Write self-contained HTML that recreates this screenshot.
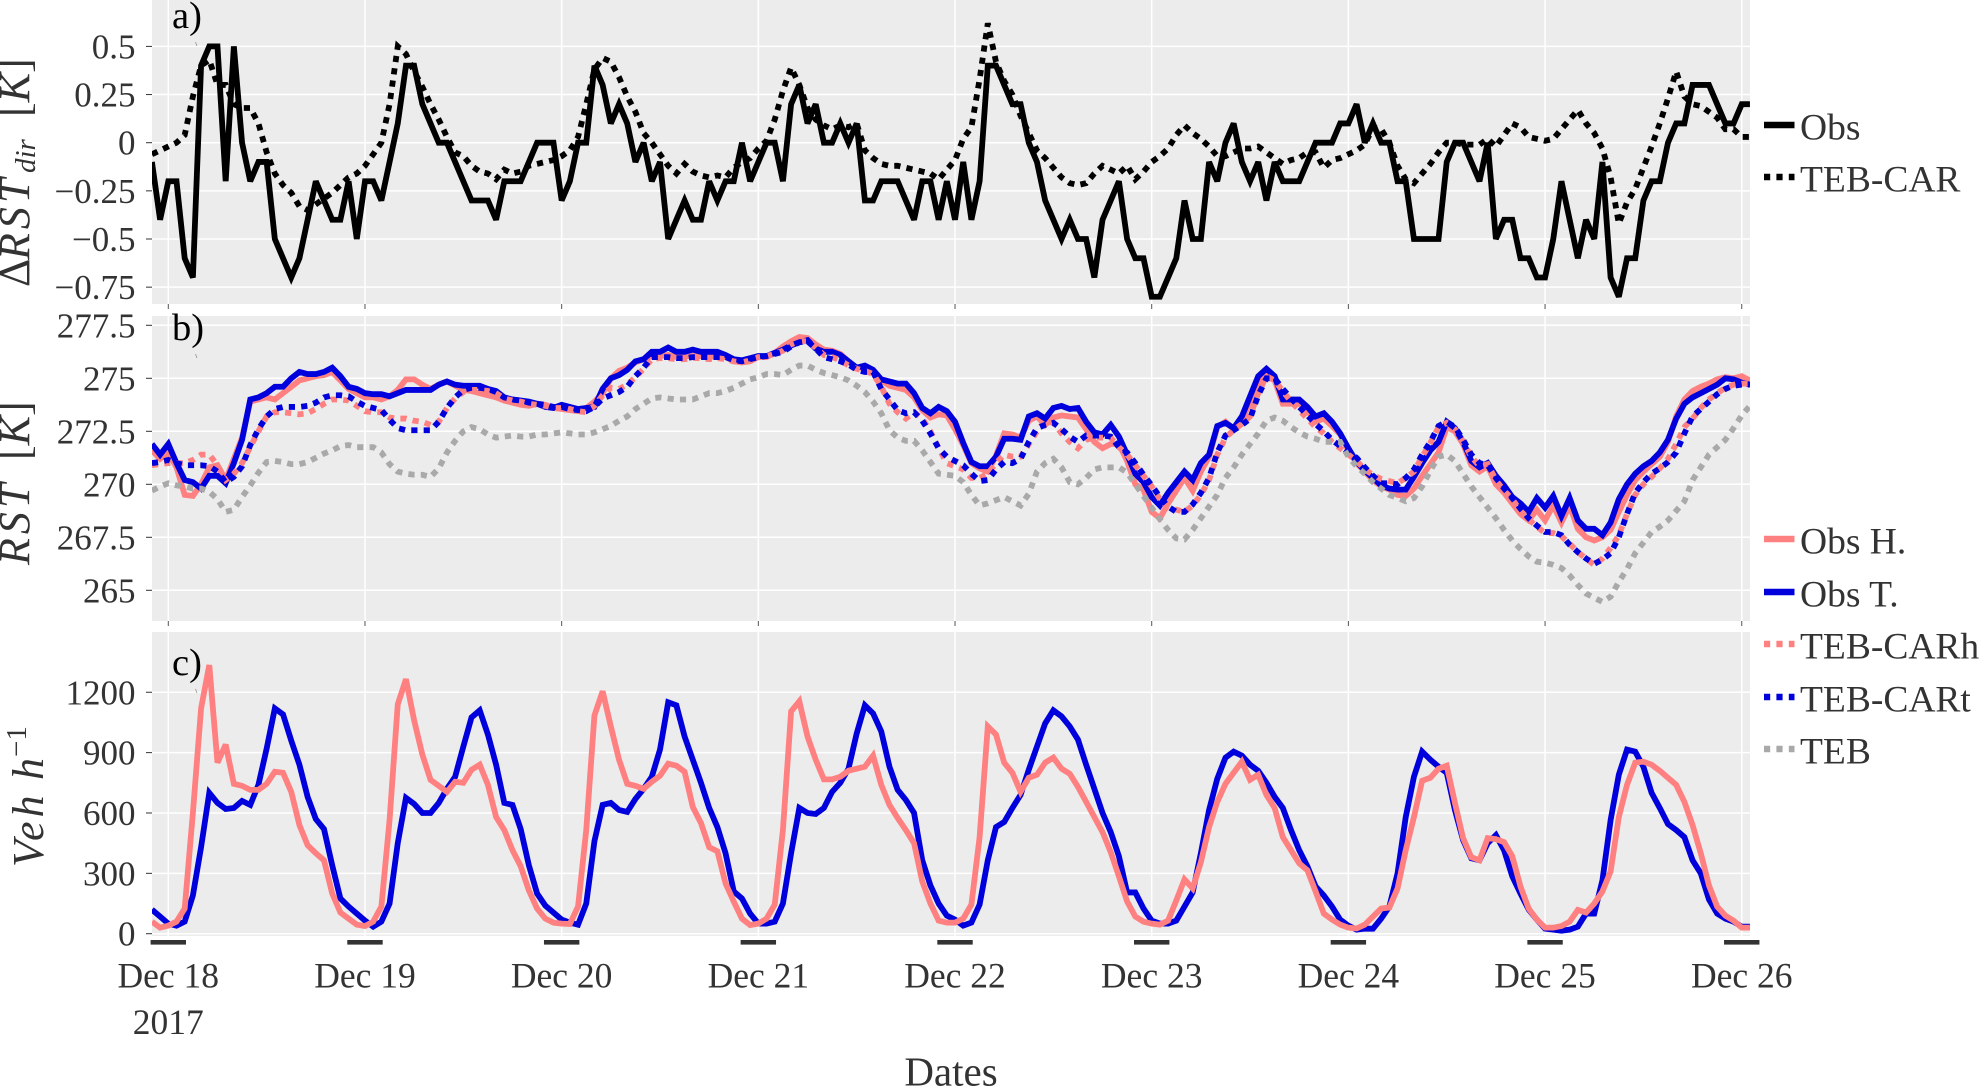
<!DOCTYPE html>
<html lang="en">
<head>
<meta charset="utf-8">
<title>RST and traffic time series</title>
<style>
html,body{margin:0;padding:0;background:#fff;width:1981px;height:1087px;overflow:hidden}
svg{display:block}
text{font-family:"Liberation Serif",serif}
</style>
</head>
<body>
<svg id="chart" xmlns="http://www.w3.org/2000/svg" width="1981" height="1087" viewBox="0 0 1981 1087">
  <text transform="translate(29,287) rotate(-90)" font-size="44" fill="#333"><tspan x="0">Δ</tspan><tspan x="27" font-style="italic" letter-spacing="4">RST</tspan><tspan x="114" font-style="italic" font-size="29" dy="6">dir</tspan><tspan x="170" dy="-6">[</tspan><tspan font-style="italic">K</tspan><tspan>]</tspan></text>
  <text transform="translate(29,565) rotate(-90)" font-size="44" fill="#333"><tspan x="0" font-style="italic" letter-spacing="4">RST</tspan><tspan x="105">[</tspan><tspan font-style="italic">K</tspan><tspan>]</tspan></text>
  <text transform="translate(43,867) rotate(-90)" font-size="44" fill="#333"><tspan x="0" font-style="italic" letter-spacing="4">Veh</tspan><tspan x="87" font-style="italic">h</tspan><tspan x="110" font-size="29" dy="-17">−1</tspan></text>
  <text x="951" y="1085.5" text-anchor="middle" font-size="41" fill="#333">Dates</text>
</svg>
<script>
// Time axis: one value per hour, hour 0 = Dec 18 00:00
const firstHour = -2;
const dayLabels = ["Dec 18","Dec 19","Dec 20","Dec 21","Dec 22","Dec 23","Dec 24","Dec 25","Dec 26"];
const yearLabel = "2017";

const deltaTicks = [0.5,0.25,0,-0.25,-0.5,-0.75];
const deltaTickLabels = ["0.5","0.25","0","−0.25","−0.5","−0.75"];
const rstTicks = [277.5,275,272.5,270,267.5,265];
const rstTickLabels = ["277.5","275","272.5","270","267.5","265"];
const vehTicks = [1200,900,600,300,0];
const vehTickLabels = ["1200","900","600","300","0"];

const deltaObs = [
-0.1,-0.4,-0.2,-0.2,-0.6,-0.7,0.4,0.5,0.5,-0.2,
0.5,0,-0.2,-0.1,-0.1,-0.5,-0.6,-0.7,-0.6,-0.4,
-0.2,-0.3,-0.4,-0.4,-0.2,-0.5,-0.2,-0.2,-0.3,-0.1,
0.1,0.4,0.4,0.2,0.1,0,0,-0.1,-0.2,-0.3,
-0.3,-0.3,-0.4,-0.2,-0.2,-0.2,-0.1,0,0,0,
-0.3,-0.2,0,0,0.4,0.3,0.1,0.2,0.1,-0.1,
0,-0.2,-0.1,-0.5,-0.4,-0.3,-0.4,-0.4,-0.2,-0.3,
-0.2,-0.2,0,-0.2,-0.1,0,0,-0.2,0.2,0.3,
0.1,0.2,0,0,0.1,0,0.1,-0.3,-0.3,-0.2,
-0.2,-0.2,-0.3,-0.4,-0.2,-0.2,-0.4,-0.2,-0.4,-0.1,
-0.4,-0.2,0.4,0.4,0.3,0.2,0.2,0,-0.1,-0.3,
-0.4,-0.5,-0.4,-0.5,-0.5,-0.7,-0.4,-0.3,-0.2,-0.5,
-0.6,-0.6,-0.8,-0.8,-0.7,-0.6,-0.3,-0.5,-0.5,-0.1,
-0.2,0,0.1,-0.1,-0.2,-0.1,-0.3,-0.1,-0.2,-0.2,
-0.2,-0.1,0,0,0,0.1,0.1,0.2,0,0.1,
0,0,-0.2,-0.2,-0.5,-0.5,-0.5,-0.5,-0.1,0,
0,-0.1,-0.2,0,-0.5,-0.4,-0.4,-0.6,-0.6,-0.7,
-0.7,-0.5,-0.2,-0.4,-0.6,-0.4,-0.5,-0.1,-0.7,-0.8,
-0.6,-0.6,-0.3,-0.2,-0.2,0,0.1,0.1,0.3,0.3,
0.3,0.2,0.1,0.1,0.2,0.2];

const deltaTebCar = [
-0.06,-0.04,-0.02,0,0.04,0.24,0.4,0.43,0.3,0.3,
0.2,0.18,0.18,0.1,-0.05,-0.16,-0.22,-0.26,-0.33,-0.35,
-0.32,-0.29,-0.26,-0.22,-0.18,-0.16,-0.12,-0.06,0,0.2,
0.5,0.46,0.37,0.29,0.2,0.12,0.03,-0.05,-0.07,-0.12,
-0.15,-0.16,-0.19,-0.14,-0.16,-0.15,-0.12,-0.11,-0.1,-0.09,
-0.07,-0.04,0.03,0.2,0.38,0.44,0.42,0.34,0.24,0.16,
0.05,0,-0.06,-0.12,-0.16,-0.11,-0.15,-0.17,-0.18,-0.17,
-0.18,-0.13,-0.1,-0.08,-0.03,0.01,0.12,0.27,0.39,0.3,
0.18,0.12,0.09,0.07,0.09,0.08,0.1,-0.04,-0.08,-0.11,
-0.12,-0.12,-0.13,-0.14,-0.15,-0.16,-0.19,-0.14,-0.09,0.02,
0.08,0.33,0.62,0.42,0.32,0.25,0.14,0.05,-0.04,-0.08,
-0.13,-0.18,-0.21,-0.22,-0.21,-0.16,-0.12,-0.14,-0.16,-0.12,
-0.19,-0.15,-0.1,-0.07,-0.03,0.04,0.09,0.05,0.02,-0.02,
-0.07,-0.07,-0.05,-0.03,-0.03,-0.02,-0.05,-0.08,-0.11,-0.09,
-0.08,-0.05,-0.05,-0.13,-0.09,-0.08,-0.06,-0.04,-0.01,0.08,
0.07,0,-0.12,-0.19,-0.21,-0.16,-0.11,-0.05,0,0,
-0.01,-0.01,-0.01,0.02,-0.02,0.04,0.1,0.08,0.03,0.02,
0.01,0.02,0.07,0.12,0.17,0.1,0.05,-0.03,-0.18,-0.42,
-0.31,-0.24,-0.13,-0.02,0.1,0.23,0.37,0.24,0.2,0.19,
0.16,0.13,0.07,0.07,0.03,0.03];

const rstObsH = [
271.6,271.2,271.5,270.8,269.5,269.45,270,270.8,270.9,270.2,
271.2,272.2,273.9,274,274.1,274,274.3,274.6,274.9,275,
275.1,275.15,275.3,274.9,274.5,274.3,274.1,274.1,274,274.15,
274.45,274.95,274.95,274.7,274.5,274.7,274.85,274.65,274.45,274.4,
274.3,274.2,274.1,273.95,273.85,273.75,273.7,273.8,273.75,273.6,
273.55,273.5,273.45,273.6,273.9,274.3,275,275.35,275.5,275.75,
275.9,276.05,276.05,276.1,276,276.05,276.05,276.05,276,276.05,
276,275.8,275.75,275.8,276,276,276.2,276.5,276.75,276.95,
276.9,276.6,276.35,276.3,276.15,275.8,275.5,275.5,275.35,274.9,
274.65,274.55,274.45,274.1,273.5,273.15,273.3,273.25,272.6,271.85,
271,270.75,270.6,271.35,272.4,272.35,272.2,273,273.2,272.8,
273.15,273.25,273.2,273.15,272.6,272,271.7,271.9,271.9,271.1,
270,269.75,268.7,268.4,269.1,269.7,270.3,269.7,270.6,271.3,
272.7,272.95,272.6,273,273.9,274.9,275.2,274.9,273.8,273.8,
273.8,273.5,272.95,273.1,272.75,272.35,271.6,271,270.6,270.2,
269.9,269.75,269.5,269.45,269.8,270.4,270.95,271.5,272.7,272.5,
271.9,270.9,270.6,270.85,270,269.6,269.1,268.6,268.3,268.8,
268.3,269,268.2,269,267.9,267.5,267.35,267.5,267.85,268.7,
269.5,270.2,270.6,270.95,271.3,272,273.2,274,274.4,274.6,
274.75,274.95,275.05,275,275.1,274.9];

const rstObsT = [
271.9,271.4,271.9,271,270.2,270.1,269.8,270.4,270.4,270.05,
271,272.1,274,274.1,274.3,274.6,274.6,275,275.3,275.2,
275.2,275.3,275.5,275.1,274.6,274.5,274.3,274.25,274.25,274.15,
274.3,274.45,274.45,274.45,274.45,274.7,274.85,274.7,274.65,274.65,
274.65,274.5,274.4,274.1,274,273.95,273.9,273.8,273.65,273.6,
273.75,273.65,273.55,273.6,273.65,274.5,275,275.15,275.4,275.8,
275.9,276.25,276.25,276.45,276.25,276.25,276.35,276.25,276.25,276.25,
276.1,275.9,275.85,275.95,276.05,276.05,276.2,276.35,276.55,276.7,
276.8,276.4,276.25,276.25,276.1,275.8,275.5,275.6,275.4,274.95,
274.85,274.75,274.75,274.3,273.6,273.35,273.65,273.45,272.95,271.95,
271.05,270.85,270.85,271.3,272.15,272.15,272.1,273.2,273.35,273.1,
273.6,273.7,273.55,273.6,272.95,272.45,272.35,272.8,272.25,271.4,
270.5,270.1,269.4,269,269.6,270.1,270.6,270.2,271,271.4,
272.75,272.9,272.65,273.2,274.15,275.1,275.45,275.1,274,274,
274,273.65,273.2,273.35,272.95,272.4,271.7,271.05,270.65,270.3,
269.95,269.8,269.75,269.75,270.35,271,271.6,272,272.95,272.65,
272,271.1,270.8,271,270.4,269.95,269.4,269.1,268.7,269.35,
268.9,269.45,268.5,269.35,268.3,267.9,267.9,267.6,268.2,269.3,
270,270.5,270.85,271.1,271.5,272.1,273.1,273.8,274.1,274.3,
274.5,274.7,275,274.95,274.8,274.7];

const rstTebCarH = [
270.9,270.95,271,271,271,271.15,271.4,271.4,270.9,270.2,
270.5,271,271.75,272.5,273.2,273.4,273.4,273.35,273.3,273.35,
273.55,273.8,274,274,273.95,273.7,273.45,273.4,273.4,273.15,
273.1,273.1,273,272.95,272.8,272.95,273.6,274.05,274.35,274.45,
274.45,274.4,274.3,274.05,273.95,273.9,273.8,273.75,273.7,273.6,
273.6,273.55,273.45,273.4,273.7,274.2,274.55,274.5,274.7,275.05,
275.45,275.9,275.95,275.95,275.9,275.9,275.95,275.95,275.9,275.95,
275.9,275.8,275.75,275.85,276,276.05,276.15,276.3,276.6,276.75,
276.75,276.45,276.1,276,275.85,275.6,275.45,275.35,275.2,274.6,
273.8,273.4,273.1,273.4,273.1,272.5,271.7,271,270.85,270.7,
270.3,270.3,270.5,271,271.4,271.3,271.3,271.9,272.5,273,
272.9,272.4,272,271.7,272.1,272.2,272.2,272.2,271.75,271.4,
270.9,270.4,269.9,269.3,268.9,268.8,268.7,269,269.5,270.2,
271.4,272.2,272.55,272.85,273.2,274.3,275.1,274.9,274.4,273.9,
273.5,273.1,272.7,272.4,272,271.7,271.4,271.1,270.7,270.45,
270.25,270.15,270.05,270.3,270.6,271.3,271.95,272.7,272.9,272.6,
272,271.3,270.85,270.95,270.2,269.7,269.3,268.75,268.35,268,
267.7,267.7,267.55,267.2,266.8,266.5,266.2,266.5,267,267.6,
268.6,269.5,270,270.35,270.75,271.2,271.9,272.7,273.1,273.6,
274,274.3,274.55,274.7,274.75,274.75];

const rstTebCarT = [
271,271.05,271.15,271,270.9,270.9,270.9,270.85,270.6,270.1,
270.35,270.85,271.85,272.6,273.2,273.55,273.65,273.65,273.65,273.7,
273.85,274.1,274.2,274.2,274.15,273.9,273.7,273.6,273.5,273.05,
272.65,272.55,272.55,272.55,272.55,272.95,273.6,274.1,274.45,274.55,
274.55,274.5,274.35,274.1,274,273.95,273.85,273.8,273.75,273.65,
273.65,273.55,273.5,273.45,273.65,274.05,274.2,274.35,274.6,275.1,
275.5,276,276,276,275.95,275.95,276,276,276,276,
276,275.85,275.8,275.9,276,276.05,276.15,276.25,276.5,276.7,
276.75,276.4,276,275.9,275.8,275.65,275.4,275.3,275.3,274.5,
274,273.5,273.35,273.4,273,272.4,271.7,271.3,271.1,270.9,
270.5,270.15,270.2,270.7,271.05,271,271.2,272,272.65,272.8,
272.9,272.6,272.25,272,272.3,272.3,272.3,272.25,271.75,271.5,
271,270.45,269.95,269.4,268.95,268.7,268.7,269.05,269.6,270.3,
271.5,272.3,272.55,272.8,273.1,274.2,275,275,274.5,274.05,
273.65,273.25,272.85,272.5,272.1,271.8,271.5,271.25,270.8,270.4,
270.05,270.05,270,270.3,270.7,271.4,272,272.75,272.95,272.7,
272.1,271.4,271,270.9,270.3,269.8,269.35,268.85,268.4,268.05,
267.75,267.75,267.6,267.15,266.8,266.5,266.25,266.45,266.75,267.5,
268.6,269.6,270.1,270.5,270.75,271.05,271.5,272.4,273.2,273.55,
273.9,274.25,274.5,274.65,274.7,274.7];

const rstTeb = [
269.7,269.9,270.05,269.95,269.9,269.8,269.8,269.65,269.3,268.7,
268.8,269.4,269.95,270.55,271.05,271.1,271.05,270.95,270.95,271.05,
271.25,271.45,271.6,271.8,271.85,271.75,271.75,271.75,271.5,270.95,
270.6,270.5,270.45,270.45,270.35,270.75,271.5,272.05,272.5,272.7,
272.6,272.35,272.2,272.25,272.3,272.25,272.25,272.35,272.35,272.4,
272.45,272.4,272.35,272.35,272.45,272.6,272.75,273,273.2,273.55,
273.8,274.05,274.1,274.05,274,274,274,274.15,274.3,274.3,
274.4,274.55,274.75,274.95,275.05,275.2,275.2,275.15,275.4,275.6,
275.6,275.4,275.25,275.15,275.05,274.9,274.65,274.35,273.9,273.35,
272.55,272.2,272.05,272.05,271.6,271.05,270.5,270.45,270.4,270.1,
269.5,269,269.1,269.25,269.4,269.2,269,269.55,270.6,271,
271.2,270.8,270.1,270,270.3,270.7,270.8,270.8,270.8,270.55,
270,269.45,268.9,268.35,267.85,267.45,267.4,267.85,268.4,268.95,
269.5,270.3,270.8,271.4,271.9,272.4,273,273.15,273,272.7,
272.45,272.25,272.15,272,272,272,271.3,270.85,270.5,270.1,
269.8,269.5,269.35,269.2,269.35,269.9,270.65,271.3,271.4,271.1,
270.5,269.9,269.4,268.9,268.4,267.85,267.35,266.95,266.6,266.35,
266.3,266.2,266.05,265.7,265.25,264.85,264.65,264.45,264.7,265.4,
266,266.75,267.25,267.75,268,268.3,268.75,269.2,270.2,270.8,
271.4,271.75,272.1,272.65,273.25,273.7];

const vehObsH = [
60,30,40,60,125,600,1120,1335,850,940,
745,735,715,715,745,805,800,705,540,440,
400,365,200,105,75,45,38,60,135,565,
1140,1265,1060,890,765,735,705,755,750,815,
840,740,580,515,415,335,215,125,75,55,
50,48,135,515,1085,1205,1030,865,745,735,
720,755,785,845,835,805,630,550,430,410,
250,160,75,43,50,75,145,515,1105,1155,
980,865,767,767,780,810,820,830,885,740,
640,575,515,450,260,150,65,55,55,75,
145,480,1030,990,850,800,705,775,790,850,
875,820,795,730,655,580,505,405,285,160,
85,60,50,45,65,165,270,225,355,530,
655,745,800,855,765,790,690,625,480,415,
350,315,210,100,70,45,30,26,45,85,
125,130,225,415,580,760,775,820,835,650,
475,380,365,475,470,455,385,235,125,70,
30,30,38,60,118,105,150,210,310,580,
740,850,855,840,810,775,740,655,540,400,
240,135,90,65,30,30];

const vehObsT = [
120,85,50,40,60,190,430,700,650,620,
625,660,640,740,920,1120,1090,960,840,680,
570,520,340,175,135,100,65,35,60,150,
450,675,645,600,600,650,720,780,930,1075,
1110,990,840,650,640,520,340,200,140,105,
70,55,45,150,460,640,650,615,605,670,
720,780,915,1150,1135,980,865,750,625,530,
400,210,175,100,50,50,60,150,400,625,
600,595,625,705,750,820,995,1135,1095,1005,
830,715,665,600,365,240,150,90,70,40,
55,145,365,530,555,625,690,815,930,1045,
1110,1080,1030,965,840,720,600,505,385,205,
205,125,65,50,50,65,135,205,400,615,
770,875,905,885,840,810,750,680,625,515,
415,335,235,190,135,70,40,20,25,25,
75,135,300,580,780,905,865,830,800,615,
465,375,365,450,490,415,285,200,120,70,
25,20,15,20,35,100,100,265,565,790,
915,905,830,700,625,545,515,480,365,300,
170,100,75,60,35,35];

const SVGNS = "http://www.w3.org/2000/svg";
const chart = document.getElementById("chart");
const PLOT_LEFT = 152, PLOT_RIGHT = 1750;
const TEXT_COLOR = "#333333", PINK = "#FF8080", BLUE = "#0000DC", GRAY = "#A9A9A9", BLACK = "#000000";
const DASH = "6.2 6.2";
const LINE_WIDTH = 5.8;

function xScale(hour){ return 168.3 + hour * 8.195; }
function yDelta(v){ return 142.7 - v * 192.6; }
function yRst(v){ return 484.3 - (v - 270) * 21.2; }
function yVeh(v){ return 933.7 - v * 0.2012; }

function make(tag, parent, attrs){
  const node = document.createElementNS(SVGNS, tag);
  for (const k in attrs) node.setAttribute(k, attrs[k]);
  parent.appendChild(node);
  return node;
}

const defs = make("defs", chart, {});

function drawPanel(key, top, bottom, ticks, tickLabels, yFn, smallXTicks){
  const group = make("g", chart, {});
  
  
  const clip = make("clipPath", defs, {id: "clip-" + key});
  make("rect", clip, {x: PLOT_LEFT, y: top, width: PLOT_RIGHT - PLOT_LEFT, height: bottom - top});
  const bg = make("rect", group, {x: PLOT_LEFT, y: top, width: PLOT_RIGHT - PLOT_LEFT, height: bottom - top, fill: "#ECECEC"});
  
  
  ticks.forEach(function(t, i){
    const y = yFn(t);
    const grid = make("line", group, {x1: PLOT_LEFT, x2: PLOT_RIGHT, y1: y, y2: y, stroke: "#ffffff", "stroke-width": 1.5});
    
    
    const mark = make("line", group, {x1: 146, x2: PLOT_LEFT, y1: y, y2: y, stroke: "#333333", "stroke-width": 1});
    
    
    const label = make("text", group, {x: 135.5, y: y + 12, "text-anchor": "end", "font-size": 35, fill: TEXT_COLOR});
    
    
    label.textContent = tickLabels[i];
  });
  dayLabels.forEach(function(d, i){
    const x = xScale(i * 24);
    const grid = make("line", group, {x1: x, x2: x, y1: top, y2: bottom, stroke: "#ffffff", "stroke-width": 1.5});
    
    
    if (smallXTicks) {
      const mark = make("line", group, {x1: x, x2: x, y1: bottom, y2: bottom + 5, stroke: "#555555", "stroke-width": 1});
      
      
    }
  });
  return group;
}

function drawSeries(group, key, name, values, yFn, color, dashed){
  const pts = values.map(function(v, i){
    return xScale(firstHour + i).toFixed(2) + "," + yFn(v).toFixed(2);
  }).join(" ");
  const line = make("polyline", group, {
    points: pts, fill: "none", stroke: color, "stroke-width": LINE_WIDTH,
    "stroke-linejoin": "miter", "stroke-miterlimit": 3, "clip-path": "url(#clip-" + key + ")"
  });
  if (dashed) line.setAttribute("stroke-dasharray", DASH);
  
  
}

function drawLegendEntry(label, y, color, dashed){
  const g = make("g", chart, {});
  
  
  const key = make("line", g, {x1: 1764, x2: 1794.5, y1: y, y2: y, stroke: color, "stroke-width": 6.5});
  if (dashed) key.setAttribute("stroke-dasharray", DASH);
  
  
  const text = make("text", g, {x: 1800, y: y + 14.5, "font-size": 37.5, fill: TEXT_COLOR});
  
  
  text.textContent = label;
}

function drawPanelLetter(label, baseline){
  const text = make("text", chart, {x: 172, y: baseline, "font-size": 38.5, fill: "#000"});
  
  
  text.textContent = label;
  const tail = make("line", chart, {x1: 195.5, y1: baseline + 14, x2: 197, y2: baseline + 18, stroke: "#888", "stroke-width": 0.7});
  
  
}

const panelA = drawPanel("delta", 0, 304, deltaTicks, deltaTickLabels, yDelta, true);
const panelB = drawPanel("rst", 316, 621, rstTicks, rstTickLabels, yRst, true);
const panelC = drawPanel("veh", 632, 936, vehTicks, vehTickLabels, yVeh, false);

drawSeries(panelA, "delta", "delta-obs", deltaObs, yDelta, BLACK, false);
drawSeries(panelA, "delta", "delta-teb-car", deltaTebCar, yDelta, BLACK, true);

drawSeries(panelB, "rst", "rst-obs-h", rstObsH, yRst, PINK, false);
drawSeries(panelB, "rst", "rst-obs-t", rstObsT, yRst, BLUE, false);
drawSeries(panelB, "rst", "rst-teb-car-h", rstTebCarH, yRst, PINK, true);
drawSeries(panelB, "rst", "rst-teb-car-t", rstTebCarT, yRst, BLUE, true);
drawSeries(panelB, "rst", "rst-teb", rstTeb, yRst, GRAY, true);

drawSeries(panelC, "veh", "veh-obs-t", vehObsT, yVeh, BLUE, false);
drawSeries(panelC, "veh", "veh-obs-h", vehObsH, yVeh, PINK, false);

dayLabels.forEach(function(d, i){
  const x = xScale(i * 24);
  const bar = make("rect", chart, {x: x - 17.7, y: 940, width: 35.4, height: 4.6, fill: "#333333"});
  
  
  const label = make("text", chart, {x: x, y: 987.5, "text-anchor": "middle", "font-size": 35.5, fill: TEXT_COLOR});
  
  
  label.textContent = d;
});

const year = make("text", chart, {x: xScale(0), y: 1034, "text-anchor": "middle", "font-size": 35.5, fill: TEXT_COLOR});


year.textContent = yearLabel;

drawPanelLetter("a)", 28);
drawPanelLetter("b)", 340);
drawPanelLetter("c)", 675);

drawLegendEntry("Obs", 125, BLACK, false);
drawLegendEntry("TEB-CAR", 177, BLACK, true);
drawLegendEntry("Obs H.", 539, PINK, false);
drawLegendEntry("Obs T.", 592, BLUE, false);
drawLegendEntry("TEB-CARh", 644, PINK, true);
drawLegendEntry("TEB-CARt", 697, BLUE, true);
drawLegendEntry("TEB", 749, GRAY, true);
</script>
</body>
</html>
